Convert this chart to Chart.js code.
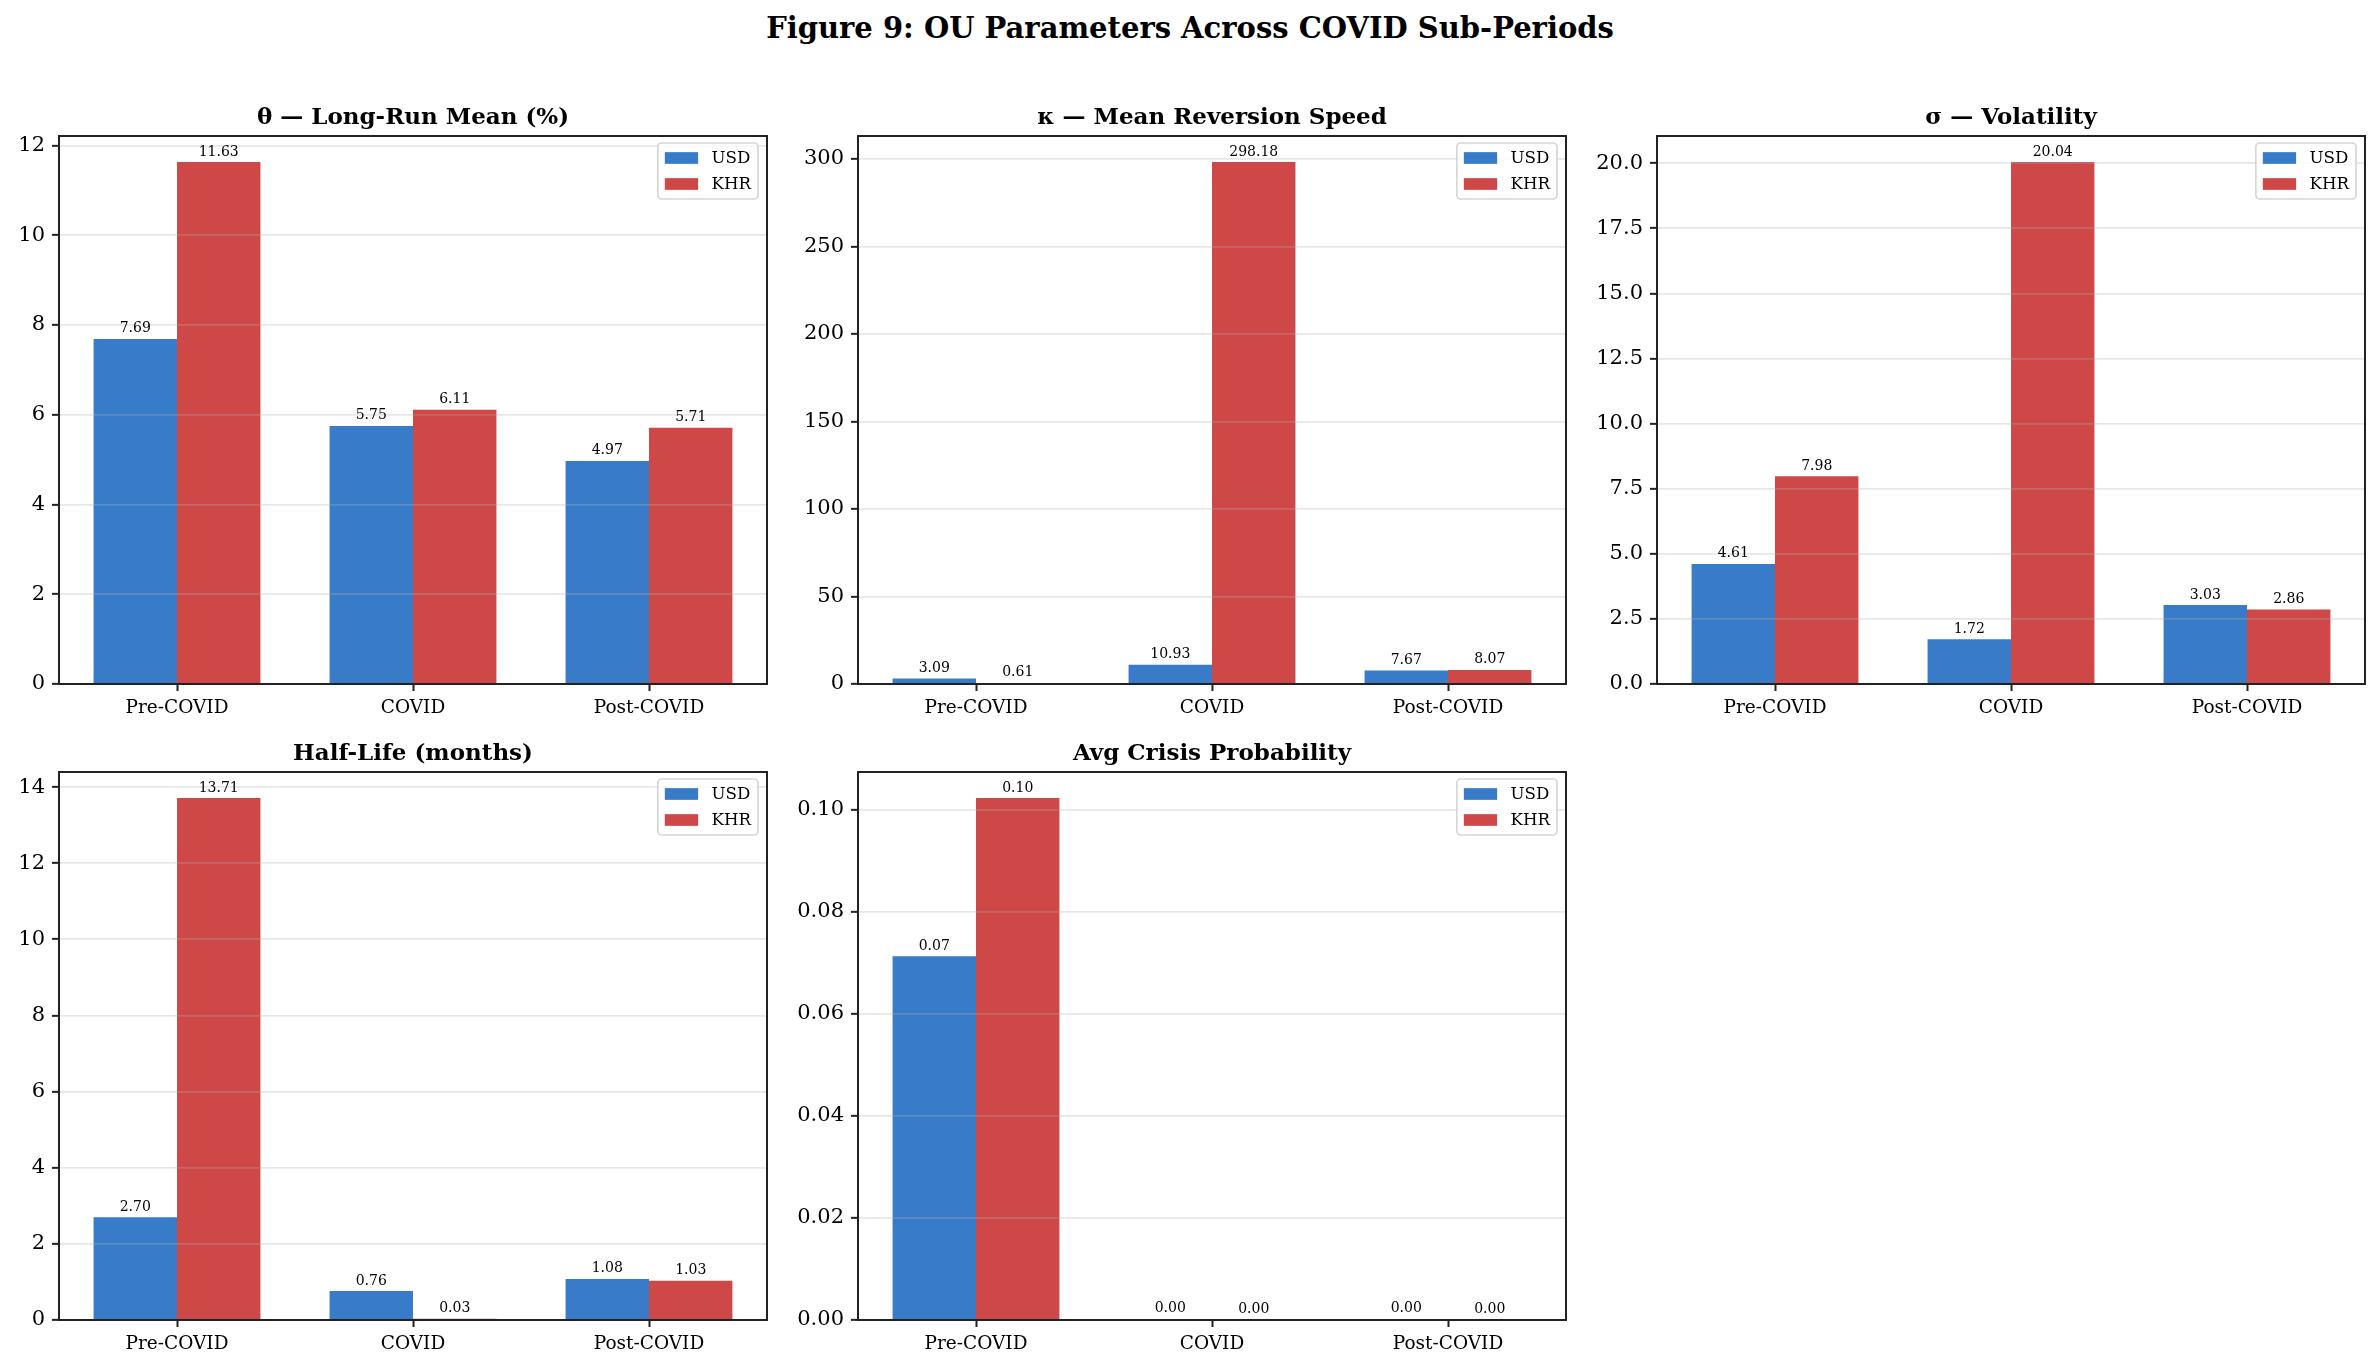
<!DOCTYPE html>
<html>
<head>
<meta charset="utf-8">
<script src="https://cdn.jsdelivr.net/npm/chart.js@4.4.1/dist/chart.umd.min.js"></script>
<style>
  body { margin: 0; background: #fff; }
  #page { position: relative; width: 2380px; height: 1368px; overflow: hidden; background: #fff; }
  #suptitle { position: absolute; left: 0; top: 14px; width: 2380px; text-align: center;
              font: bold 29px 'DejaVu Serif'; line-height: 29px; color: #000; }
  .panel { position: absolute; }
</style>
</head>
<body>
<div id="page">
  <div id="suptitle">Figure 9: OU Parameters Across COVID Sub-Periods</div>
</div>
<script>
const periods = ['Pre-COVID', 'COVID', 'Post-COVID'];

const thetaUSD = [7.69, 5.75, 4.97];
const thetaKHR = [11.63, 6.11, 5.71];
const kappaUSD = [3.09, 10.93, 7.67];
const kappaKHR = [0.61, 298.18, 8.07];
const sigmaUSD = [4.61, 1.72, 3.03];
const sigmaKHR = [7.98, 20.04, 2.86];
const halfLifeUSD = [2.70, 0.76, 1.08];
const halfLifeKHR = [13.71, 0.03, 1.03];
const crisisUSD = [0.0713, 0.0002, 0.0002];
const crisisKHR = [0.1023, 0.0001, 0.0001];

const thetaTicks = [0, 2, 4, 6, 8, 10, 12];
const kappaTicks = [0, 50, 100, 150, 200, 250, 300];
const sigmaTicks = [0, 2.5, 5, 7.5, 10, 12.5, 15, 17.5, 20];
const halfLifeTicks = [0, 2, 4, 6, 8, 10, 12, 14];
const crisisTicks = [0, 0.02, 0.04, 0.06, 0.08, 0.10];

const USD_COLOR = 'rgba(21, 101, 192, 0.85)';
const KHR_COLOR = 'rgba(198, 40, 40, 0.85)';
const FONT = 'DejaVu Serif';

Chart.defaults.font.family = FONT;
Chart.defaults.color = '#000';

// y limits: data max + 5% margin, like the original
const panels = [
  { title: 'θ — Long-Run Mean (%)', usd: thetaUSD, khr: thetaKHR, ticks: thetaTicks, max: 11.63 * 1.05, dec: 0 },
  { title: 'κ — Mean Reversion Speed', usd: kappaUSD, khr: kappaKHR, ticks: kappaTicks, max: 298.18 * 1.05, dec: 0 },
  { title: 'σ — Volatility', usd: sigmaUSD, khr: sigmaKHR, ticks: sigmaTicks, max: 20.04 * 1.05, dec: 1 },
  { title: 'Half-Life (months)', usd: halfLifeUSD, khr: halfLifeKHR, ticks: halfLifeTicks, max: 13.71 * 1.05, dec: 0 },
  { title: 'Avg Crisis Probability', usd: crisisUSD, khr: crisisKHR, ticks: crisisTicks, max: 0.1023 * 1.05, dec: 2 }
];

const AX_W = 708, AX_H = 548;
const axLeft = [59, 858, 1657];
const axTop = [136, 772];
const TITLE_SIZE = 23, TITLE_PT = 4, TITLE_PB = 4.4;
const TITLE_H = TITLE_PT + TITLE_SIZE * 1.2 + TITLE_PB;
const X_H = 52, PAD_R = 12;

const framePlugin = {
  id: 'frame',
  afterDraw(chart) {
    const ctx = chart.ctx;
    const ca = chart.chartArea;
    ctx.save();

    // value labels above bars
    ctx.font = '14px "' + FONT + '"';
    ctx.fillStyle = '#000';
    ctx.textAlign = 'center';
    ctx.textBaseline = 'alphabetic';
    chart.data.datasets.forEach((ds, di) => {
      chart.getDatasetMeta(di).data.forEach((bar, j) => {
        ctx.fillText(ds.data[j].toFixed(2), bar.x, bar.y - 6.5);
      });
    });

    // box around the axes
    ctx.strokeStyle = '#222';
    ctx.lineWidth = 2;
    ctx.strokeRect(ca.left, ca.top, ca.right - ca.left, ca.bottom - ca.top);

    // legend, upper right inside the axes
    ctx.font = '16.7px "' + FONT + '"';
    const textW = Math.max(...chart.data.datasets.map(d => ctx.measureText(d.label).width));
    const boxW = 7 + 33.3 + 13.3 + textW + 7;
    const boxH = 56;
    const x0 = ca.right - 9 - boxW;
    const y0 = ca.top + 7;
    ctx.beginPath();
    ctx.roundRect(x0, y0, boxW, boxH, 4);
    ctx.fillStyle = 'rgba(255,255,255,0.8)';
    ctx.fill();
    ctx.strokeStyle = 'rgba(204,204,204,0.8)';
    ctx.lineWidth = 1.7;
    ctx.stroke();
    ctx.textAlign = 'left';
    ctx.textBaseline = 'middle';
    chart.data.datasets.forEach((ds, di) => {
      const cy = y0 + 15 + di * 26;
      ctx.fillStyle = ds.backgroundColor;
      ctx.fillRect(x0 + 7, cy - 5.85, 33.3, 11.7);
      ctx.fillStyle = '#000';
      ctx.fillText(ds.label, x0 + 53.6, cy + 1);
    });
    ctx.restore();
  }
};

const page = document.getElementById('page');

panels.forEach((p, i) => {
  const col = i % 3, row = Math.floor(i / 3);
  const yw = Math.min(axLeft[col], 90);
  const div = document.createElement('div');
  div.className = 'panel';
  div.style.left = (axLeft[col] - yw) + 'px';
  div.style.top = (axTop[row] - TITLE_H) + 'px';
  div.style.width = (yw + AX_W + PAD_R) + 'px';
  div.style.height = (TITLE_H + AX_H + X_H) + 'px';
  const canvas = document.createElement('canvas');
  div.appendChild(canvas);
  page.appendChild(div);

  new Chart(canvas, {
    type: 'bar',
    data: {
      labels: periods,
      datasets: [
        { label: 'USD', data: p.usd, backgroundColor: USD_COLOR, borderWidth: 0,
          categoryPercentage: 0.707, barPercentage: 1.0 },
        { label: 'KHR', data: p.khr, backgroundColor: KHR_COLOR, borderWidth: 0,
          categoryPercentage: 0.707, barPercentage: 1.0 }
      ]
    },
    options: {
      responsive: true,
      maintainAspectRatio: false,
      animation: false,
      devicePixelRatio: 1,
      layout: { padding: { left: 0, top: 0, right: PAD_R, bottom: 0 } },
      plugins: {
        legend: { display: false },
        tooltip: { enabled: false },
        title: {
          display: true,
          fullSize: false, // centre over the plot area only
          text: p.title,
          color: '#000',
          font: { family: FONT, size: TITLE_SIZE, weight: 'bold' },
          padding: { top: TITLE_PT, bottom: TITLE_PB }
        }
      },
      scales: {
        x: {
          grid: { display: true, drawOnChartArea: false, offset: false,
                  tickLength: 7, tickColor: '#222', tickWidth: 2 },
          border: { display: false },
          ticks: { font: { size: 18.5 }, color: '#000', padding: 6, maxRotation: 0 },
          afterFit: s => { s.height = X_H; }
        },
        y: {
          min: 0,
          max: p.max,
          grid: { z: 1, color: 'rgba(176,176,176,0.3)', lineWidth: 1.7,
                  tickLength: 7, tickColor: '#222', tickWidth: 2 },
          border: { display: false },
          ticks: { font: { size: 21 }, color: '#000', padding: 7,
                   callback: v => Number(v).toFixed(p.dec) },
          afterBuildTicks: s => { s.ticks = p.ticks.map(v => ({ value: v })); },
          afterFit: s => { s.width = yw; }
        }
      }
    },
    plugins: [framePlugin]
  });
});
</script>
</body>
</html>
